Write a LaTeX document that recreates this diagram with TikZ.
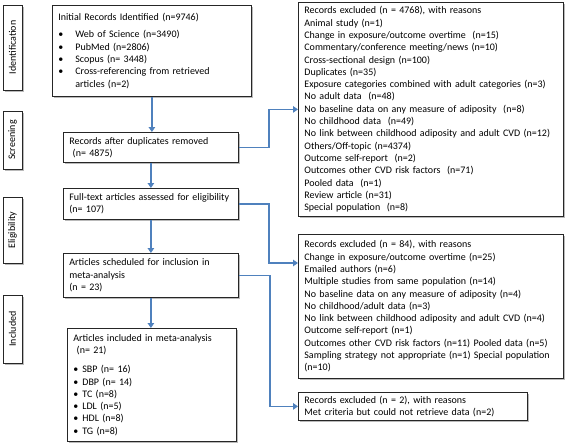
\documentclass[tikz,border=0pt]{standalone}
\usepackage{fontspec}
\setmainfont{Carlito}
\usepackage{graphicx}
\usetikzlibrary{arrows.meta,shadows}
\definecolor{flowblue}{HTML}{4F81BD}
\newcommand{\bul}[1]{\makebox[#1][l]{\textbullet}}
\hyphenpenalty=10000
\exhyphenpenalty=10000
\begin{document}
\begin{tikzpicture}[x=1pt,y=-1pt,
  every node/.style={font=\fontsize{10}{12.3}\selectfont},
  box/.style={draw=black!85, line width=0.8pt, fill=white, anchor=north west,
    align=left, inner xsep=6pt, inner ysep=2.5pt,
    drop shadow={shadow xshift=1.5pt, shadow yshift=-1.5pt, fill=black!45, opacity=0.6}},
  side/.style={draw=black!85, line width=0.8pt, fill=white, minimum width=19pt,
    inner sep=0pt,
    drop shadow={shadow xshift=1.5pt, shadow yshift=-1.5pt, fill=black!45, opacity=0.6}},
  conn/.style={draw=flowblue, line width=1.6pt, -{Triangle[length=5pt,width=6.5pt]}}
]
\useasboundingbox (0,0) rectangle (567,442);

% phase labels
\node[side, minimum height=85pt] (sid) at (12.5,47.5) {\rotatebox{90}{Identification}};
\node[side, minimum height=58pt] (sscr) at (12.5,140) {\rotatebox{90}{Screening}};
\node[side, minimum height=66pt] (selg) at (12.5,230) {\rotatebox{90}{Eligibility}};
\node[side, minimum height=68pt] (sinc) at (12.5,329) {\rotatebox{90}{Included}};

% main column
\node[box, minimum width=199pt, minimum height=91pt, text width=187pt] (b1) at (52,5)
 {Initial Records Identified (n=9746)\\[5pt]
  \bul{17pt}Web of Science (n=3490)\\
  \bul{17pt}PubMed (n=2806)\\
  \bul{17pt}Scopus (n= 3448)\\
  \bul{17pt}Cross-referencing from retrieved\\
  \hspace*{17pt}articles (n=2)};
\node[box, minimum width=175pt, minimum height=30pt, text width=163pt] (b2) at (63,132)
 {Records after duplicates removed\\
  \ (n= 4875)};
\node[box, minimum width=175pt, minimum height=31pt, text width=163pt] (b3) at (63,188)
 {Full-text articles assessed for eligibility\\
  (n= 107)};
\node[box, minimum width=175pt, minimum height=44pt, text width=163pt] (b4) at (63,253)
 {Articles scheduled for inclusion in\\
  meta-analysis\\
  (n = 23)};
\node[box, minimum width=169pt, minimum height=113pt, text width=157pt] (b5) at (67,328)
 {Articles included in meta-analysis\\
  \ (n= 21)\\[7pt]
  \bul{9pt}SBP (n= 16)\\
  \bul{9pt}DBP (n= 14)\\
  \bul{9pt}TC (n=8)\\
  \bul{9pt}LDL (n=5)\\
  \bul{9pt}HDL (n=8)\\
  \bul{9pt}TG (n=8)};

% exclusion boxes
\node[box, minimum width=265pt, minimum height=214pt, text width=253pt] (r1) at (298,2)
 {Records excluded (n = 4768), with reasons\\
  Animal study (n=1)\\
  Change in exposure/outcome overtime~ (n=15)\\
  Commentary/conference meeting/news (n=10)\\
  Cross-sectional design (n=100)\\
  Duplicates (n=35)\\
  Exposure categories combined with adult categories (n=3)\\
  No adult data~ (n=48)\\
  No baseline data on any measure of adiposity~ (n=8)\\
  No childhood data~ (n=49)\\
  No link between childhood adiposity and adult CVD (n=12)\\
  Others/Off-topic (n=4374)\\
  Outcome self-report~ (n=2)\\
  Outcomes other CVD risk factors~ (n=71)\\
  Pooled data~ (n=1)\\
  Review article (n=31)\\
  Special population~ (n=8)};
\node[box, minimum width=265pt, minimum height=144pt, text width=253pt] (r2) at (298,234)
 {Records excluded (n = 84), with reasons\\
  Change in exposure/outcome overtime (n=25)\\
  Emailed authors (n=6)\\
  Multiple studies from same population (n=14)\\
  No baseline data on any measure of adiposity (n=4)\\
  No childhood/adult data (n=3)\\
  No link between childhood adiposity and adult CVD (n=4)\\
  Outcome self-report (n=1)\\
  Outcomes other CVD risk factors (n=11) Pooled data (n=5)\\
  Sampling strategy not appropriate (n=1) Special population\\
  (n=10)};
\node[box, minimum width=229pt, minimum height=28pt, text width=217pt] (r3) at (298,392)
 {Records excluded (n = 2), with reasons\\
  Met criteria but could not retrieve data (n=2)};

% connectors
\draw[conn] (b1.south) -- (b1.south |- b2.north);
\draw[conn] (b2.south) -- (b2.south |- b3.north);
\draw[conn] (b3.south) -- (b3.south |- b4.north);
\draw[conn] (b4.south) -- (b4.south |- b5.north);
\draw[conn] (b2.east) -- ++(30,0) |- (r1.west);
\draw[conn] (b3.east) -- ++(30,0) |- ([yshift=-29pt]r2.north west);
\draw[conn] (b4.east) -- ++(31,0) |- (r3.west);
\end{tikzpicture}
\end{document}
